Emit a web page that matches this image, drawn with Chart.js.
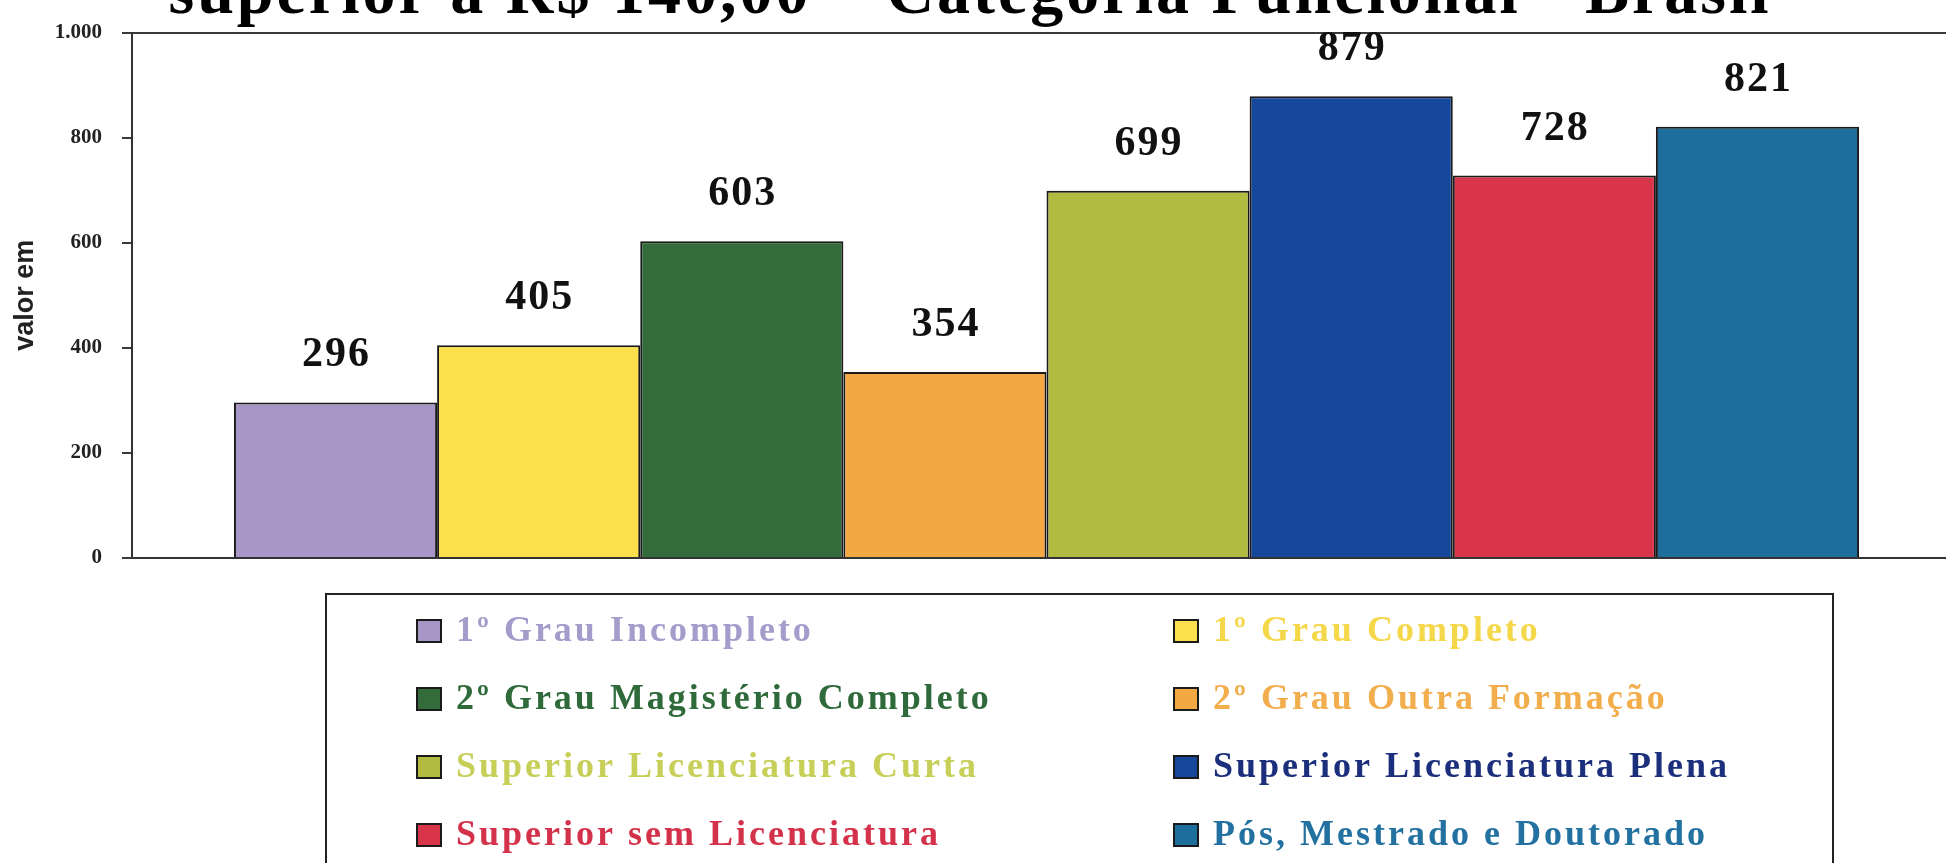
<!DOCTYPE html>
<html>
<head>
<meta charset="utf-8">
<script src="https://cdn.jsdelivr.net/npm/chart.js@4.4.1/dist/chart.umd.min.js"></script>
<style>
    html, body { margin: 0; padding: 0; background: #fff; overflow: hidden; }
    #wrap { width: 1946px; height: 863px; overflow: hidden; }
</style>
</head>
<body>
<div id="wrap">
    <canvas id="myChart" width="1966" height="863"></canvas>
</div>
<script>
const categories = [
    '1º Grau Incompleto',
    '1º Grau Completo',
    '2º Grau Magistério Completo',
    '2º Grau Outra Formação',
    'Superior Licenciatura Curta',
    'Superior Licenciatura Plena',
    'Superior sem Licenciatura',
    'Pós, Mestrado e Doutorado'
];
const values = [296, 405, 603, 354, 699, 879, 728, 821];
const yTickLabels = ['0', '200', '400', '600', '800', '1.000'];
const chartTitle = 'superior a R$ 140,00 – Categoria Funcional - Brasil';
const axisTitle = 'valor em';

const barColors = ['#a896c6', '#fbdf4c', '#336c3a', '#f3a843', '#b2bb3f', '#15489b', '#d8344a', '#1d6e9c'];
const legendTextColors = ['#a59ccb', '#f5d84a', '#2f6a3a', '#f2ad4c', '#c8cf58', '#1c2f7c', '#d4324a', '#2371a0'];

// titulo (so a ultima linha aparece, o resto fica fora da imagem)
const titlePlugin = {
    id: 'titlePlugin',
    afterDraw(chart) {
        const c = chart.ctx;
        c.save();
        c.font = 'bold 66px "Liberation Serif"';
        c.letterSpacing = '3px';
        c.fillStyle = '#000';
        c.textAlign = 'center';
        c.textBaseline = 'alphabetic';
        c.fillText(chartTitle, 970, 13);
        c.restore();
    }
};

// valores em cima das barras
const valueLabels = {
    id: 'valueLabels',
    afterDatasetsDraw(chart) {
        const c = chart.ctx;
        c.save();
        c.font = 'bold 42px "Liberation Serif"';
        c.letterSpacing = '2px';
        c.fillStyle = '#111';
        c.textAlign = 'center';
        c.textBaseline = 'alphabetic';
        chart.data.datasets.forEach((ds, i) => {
            const bar = chart.getDatasetMeta(i).data[0];
            c.fillText(String(ds.data[0]), bar.x + 1, bar.y - 36);
        });
        c.restore();
    }
};

// legenda em duas colunas dentro de uma caixa
const boxLegend = {
    id: 'boxLegend',
    afterDraw(chart) {
        const c = chart.ctx;
        c.save();
        c.strokeStyle = '#222';
        c.lineWidth = 2;
        c.strokeRect(326, 594, 1507, 400);
        c.font = 'bold 36px "Liberation Serif"';
        c.letterSpacing = '3px';
        c.textBaseline = 'middle';
        c.textAlign = 'left';
        chart.data.datasets.forEach((ds, i) => {
            const col = i % 2;
            const row = Math.floor(i / 2);
            const x = col === 0 ? 417 : 1174;
            const y = 631 + row * 68;
            c.fillStyle = ds.backgroundColor;
            c.fillRect(x, y - 11, 24, 22);
            c.lineWidth = 2;
            c.strokeStyle = '#1a1a1a';
            c.strokeRect(x, y - 11, 24, 22);
            c.fillStyle = legendTextColors[i];
            c.fillText(ds.label, x + 39, y + 1);
        });
        c.restore();
    }
};

const ctx = document.getElementById('myChart').getContext('2d');
new Chart(ctx, {
    type: 'bar',
    data: {
        labels: [''],
        datasets: categories.map((name, i) => ({
            label: name,
            data: [values[i]],
            backgroundColor: barColors[i],
            borderColor: '#1a1a1a',
            borderWidth: 2,
            barPercentage: 1,
            categoryPercentage: 0.8885
        }))
    },
    options: {
        responsive: false,
        animation: false,
        layout: {
            padding: { top: 28, right: 5, bottom: 297, left: 0 }
        },
        plugins: {
            legend: { display: false },
            title: { display: false },
            tooltip: { enabled: false }
        },
        scales: {
            x: {
                grid: { display: false },
                ticks: { display: false },
                border: { display: true, color: '#333', width: 2 }
            },
            y: {
                min: 0,
                max: 1000,
                afterFit(scale) { scale.width = 132; },
                ticks: {
                    stepSize: 200,
                    padding: 20,
                    color: '#222',
                    font: { family: 'Liberation Serif', size: 21, weight: 'bold' },
                    callback: (v, i) => yTickLabels[i]
                },
                grid: {
                    color: (c) => (c.tick && c.tick.value === 1000 ? '#3a3a3a' : 'rgba(0,0,0,0)'),
                    lineWidth: 2,
                    tickColor: '#3a3a3a',
                    tickLength: 10
                },
                border: { display: true, color: '#333', width: 2 },
                title: {
                    display: true,
                    text: axisTitle,
                    color: '#222',
                    font: { family: 'Liberation Sans', size: 27, weight: 'bold' },
                    padding: { top: 9, bottom: 0 }
                }
            }
        }
    },
    plugins: [titlePlugin, valueLabels, boxLegend]
});
</script>
</body>
</html>
